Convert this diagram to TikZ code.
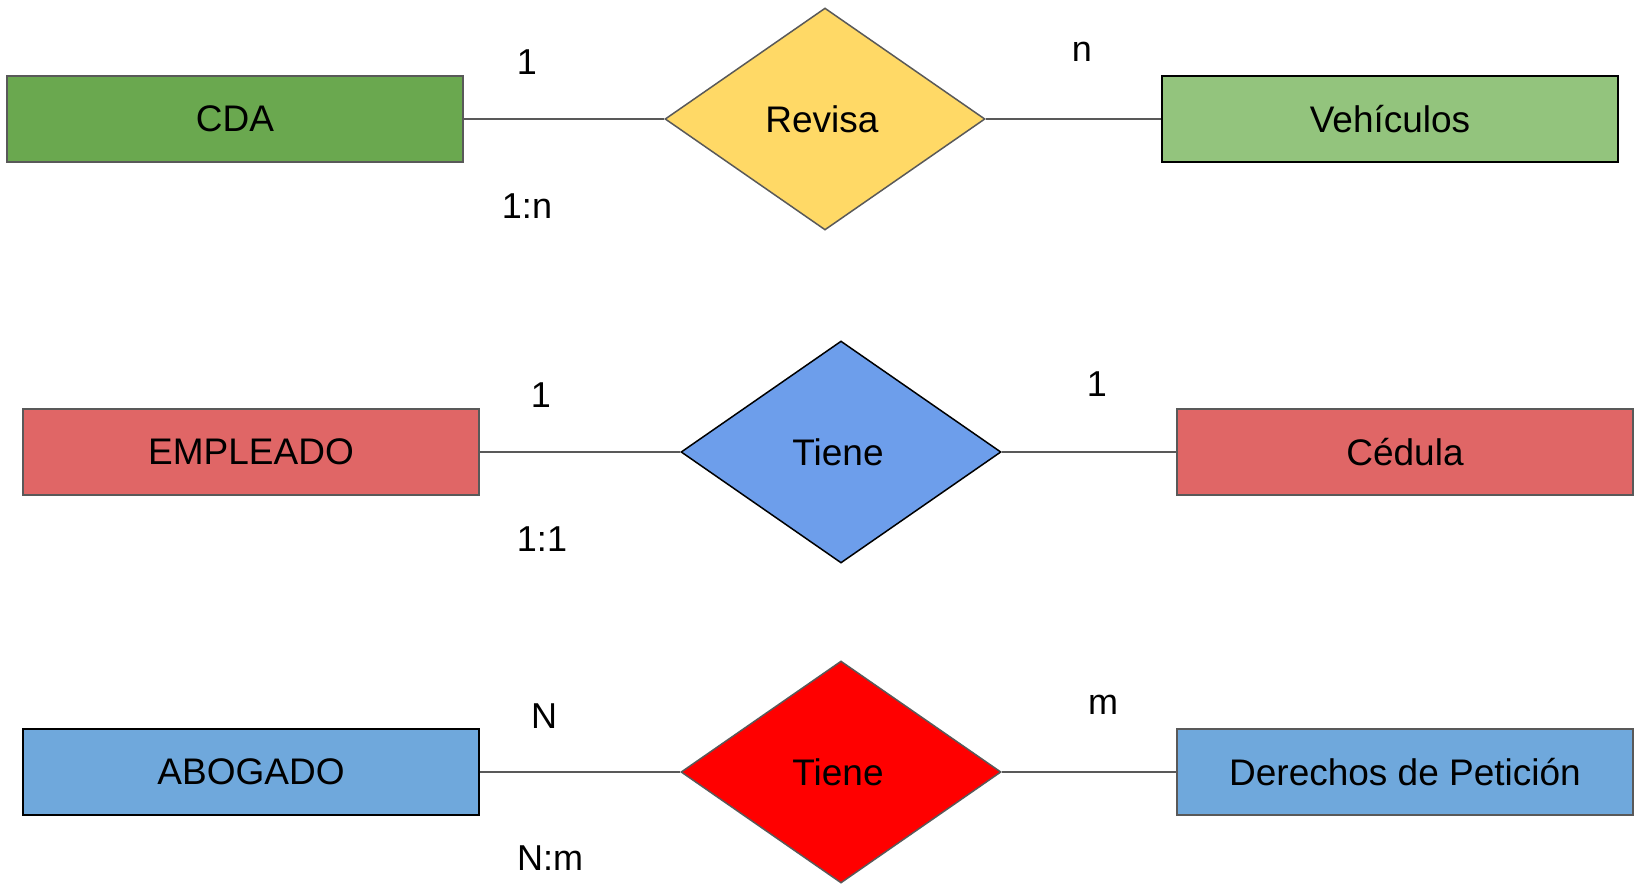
\documentclass[tikz,border=0pt]{standalone}
\usepackage{fontspec}
\setmainfont{Liberation Sans}
\usetikzlibrary{shapes.geometric}
\definecolor{cdagreen}{HTML}{6AA84F}
\definecolor{vehgreen}{HTML}{93C47D}
\definecolor{revyellow}{HTML}{FFD966}
\definecolor{empred}{HTML}{E06666}
\definecolor{tieneblue}{HTML}{6D9EEB}
\definecolor{abblue}{HTML}{6FA8DC}
\definecolor{tienered}{HTML}{FF0000}
\definecolor{edgegray}{HTML}{595959}
\tikzset{
  entity/.style={draw, line width=1.5pt, rectangle, minimum width=456pt, minimum height=86pt, inner sep=0pt, font=\fontsize{37}{41}\selectfont},
  relation/.style={draw, line width=1.5pt, diamond, aspect=1.44, minimum width=320pt, minimum height=222pt, inner sep=0pt, font=\fontsize{37}{41}\selectfont},
  link/.style={draw=edgegray, line width=1.5pt},
  card/.style={font=\fontsize{36}{40}\selectfont, inner sep=0pt}
}
\begin{document}
\begin{tikzpicture}[x=1pt,y=-1pt]
\useasboundingbox (0,0) rectangle (1634,884);
% row 1
\node[entity, fill=cdagreen, draw=edgegray] (cda) at (235,119) {CDA};
\node[relation, fill=revyellow, draw=edgegray] (revisa) at (825,119) {\hspace*{-6pt}Revisa};
\node[entity, fill=vehgreen, draw=black] (veh) at (1390,119) {Vehículos};
\draw[link] (cda) -- (revisa);
\draw[link] (revisa) -- (veh);
\node[card] (c1a) at (527,62) {1};
\node[card] (c1b) at (527,206) {1:n};
\node[card] (c1c) at (1082,52) {n};
% row 2
\node[entity, fill=empred, draw=edgegray] (emp) at (251,452) {EMPLEADO};
\node[relation, fill=tieneblue, draw=black] (tiene1) at (841,452) {\hspace*{-6pt}Tiene};
\node[entity, fill=empred, draw=edgegray] (ced) at (1405,452) {Cédula};
\draw[link] (emp) -- (tiene1);
\draw[link] (tiene1) -- (ced);
\node[card] (c2a) at (541,395) {1};
\node[card] (c2b) at (542,539) {1:1};
\node[card] (c2c) at (1097,384) {1};
% row 3
\node[entity, fill=abblue, draw=black] (abo) at (251,772) {ABOGADO};
\node[relation, fill=tienered, draw=edgegray] (tiene2) at (841,772) {\hspace*{-6pt}Tiene};
\node[entity, fill=abblue, draw=edgegray] (der) at (1405,772) {Derechos de Petición};
\draw[link] (abo) -- (tiene2);
\draw[link] (tiene2) -- (der);
\node[card] (c3a) at (544,716) {N};
\node[card] (c3b) at (550,858) {N:m};
\node[card] (c3c) at (1103,705) {m};
\end{tikzpicture}
\end{document}
